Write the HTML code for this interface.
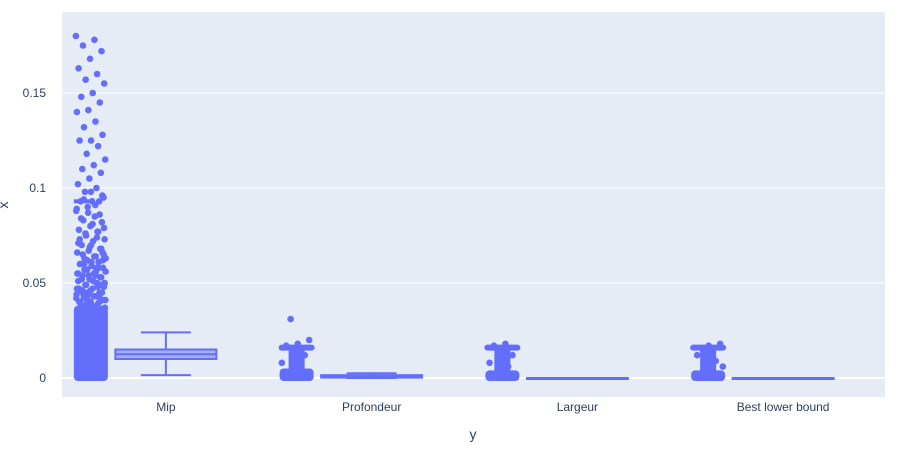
<!DOCTYPE html>
<html><head><meta charset="utf-8"><style>
body{margin:0;background:#fff;font-family:"Liberation Sans",Arial,sans-serif}
svg text{font-family:"Liberation Sans",Arial,sans-serif;fill:#2a3f5f;font-size:12px}
</style></head><body>
<svg id="chart" width="898" height="447">
<rect x="62" y="12" width="823" height="385" fill="#e5ecf6"/>
<g id="grid"></g><g id="marks"></g><g id="labels"></g>
<text x="473" y="439" text-anchor="middle" style="font-size:14px">y</text>
<text transform="translate(8,205) rotate(-90)" text-anchor="middle" style="font-size:14px">x</text>
</svg>
<script>
const categories=["Mip","Profondeur","Largeur","Best lower bound"];
const yTicks=[0,0.05,0.1,0.15];
const yTickLabels=["0","0.05","0.1","0.15"];
const boxLow=[0.0015,0,0,0];
const boxQ1=[0.0100,0.0002,0,0];
const boxMedian=[0.0125,0.0008,0,0];
const boxQ3=[0.0150,0.0015,0,0];
const boxHigh=[0.0240,0.0025,0,0];
const denseTop=[0.038,0.005,0.004,0.004];
const clusterValue=[null,0.016,0.016,0.016];
const mipPoints=[0.180,0.178,0.175,0.172,0.168,0.163,0.160,0.157,0.155,0.150,0.148,0.145,0.141,0.140,0.135,0.132,0.128,0.125,0.125,0.122,0.118,0.115,0.112,0.110,0.108,0.105,0.102,0.100,0.098,0.095,0.093,0.093,0.093,0.090,0.088,0.085,0.083,0.082,0.080,0.078,0.077,0.075,0.073,0.072,0.070,0.068,0.067,0.066,0.064,0.063,0.062,0.061,0.060,0.058,0.057,0.056,0.055,0.054,0.053,0.052,0.051,0.050,0.049,0.048,0.047,0.046,0.045,0.045,0.044,0.043,0.042,0.041,0.040,0.040,0.039,0.038,0.037,0.036,0.036];
const mipDense=[0.098,0.096,0.094,0.091,0.089,0.087,0.086,0.084,0.081,0.079,0.076,0.074,0.071,0.069,0.068,0.065,0.064,0.063,0.062,0.061,0.060,0.059,0.058,0.057,0.056,0.055,0.054,0.053,0.052,0.051,0.050,0.049,0.048,0.047,0.046,0.045,0.044,0.043,0.042,0.041,0.040,0.039,0.038,0.065,0.062,0.058,0.055,0.052,0.049,0.046,0.043,0.041,0.039,0.077,0.073,0.070,0.066,0.060,0.054,0.047,0.044,0.042];
const otherPoints=[[],[0.031,0.020,0.018,0.017,0.012,0.010,0.008,0.006],[0.018,0.017,0.012,0.010,0.008,0.006],[0.018,0.017,0.012,0.009,0.007,0.006]];
const NS="http://www.w3.org/2000/svg";
const X0=62,BW=823/4;
const yS=v=>378-v*1900;
const cx=i=>X0+BW*(i+0.5)+1;
function el(t,a,p){const e=document.createElementNS(NS,t);for(const k in a)e.setAttribute(k,a[k]);p.appendChild(e);return e;}
const grid=document.getElementById('grid'),marks=document.getElementById('marks'),labels=document.getElementById('labels');
yTicks.forEach((t,i)=>{
 const l=el('line',{x1:62,x2:885,y1:yS(t),y2:yS(t),stroke:'#fff','stroke-width':t===0?2:1},grid);
 
 
 const tx=el('text',{x:46,y:yS(t)+4,'text-anchor':'end'},labels);tx.textContent=yTickLabels[i];
 
 
});
const C='#636efa';
categories.forEach((c,i)=>{
 const tx=el('text',{x:cx(i),y:411,'text-anchor':'middle'},labels);tx.textContent=c;
 
 
 const px=cx(i)-75;
 const g=el('g',{},marks);
 
 
 el('rect',{x:px-17,y:yS(denseTop[i]),width:34,height:yS(0)-yS(denseTop[i])+3,rx:4,fill:C},g);
 if(clusterValue[i]!==null){
  el('rect',{x:px-8,y:yS(clusterValue[i]),width:16,height:yS(0)-yS(clusterValue[i]),fill:C},g);
  el('rect',{x:px-18,y:yS(clusterValue[i])-3,width:36,height:6,rx:3,fill:C},g);
 }
 const pts=i===0?mipPoints:otherPoints[i];
 pts.forEach((v,k)=>{
  const j=((k*0.618+0.3*i)%1)*30-15;
  el('circle',{cx:px+j,cy:yS(v),r:3.3,fill:C},g);
 });
 if(i===0){
  mipDense.forEach((v,k)=>{
   const j=((k*0.382+0.5)%1)*30-15;
   el('circle',{cx:px+j,cy:yS(v),r:3.3,fill:C},g);
  });
  el('rect',{x:px-17,y:yS(0.093)-2,width:18,height:4,fill:C},g);
 }
 const b=el('g',{},marks);
 
 
 const bx=cx(i),bw=101,ww=50;
 el('line',{x1:bx,x2:bx,y1:yS(boxHigh[i]),y2:yS(boxQ3[i]),stroke:C,'stroke-width':2},b);
 el('line',{x1:bx,x2:bx,y1:yS(boxQ1[i]),y2:yS(boxLow[i]),stroke:C,'stroke-width':2},b);
 el('line',{x1:bx-ww/2,x2:bx+ww/2,y1:yS(boxHigh[i]),y2:yS(boxHigh[i]),stroke:C,'stroke-width':2},b);
 el('line',{x1:bx-ww/2,x2:bx+ww/2,y1:yS(boxLow[i]),y2:yS(boxLow[i]),stroke:C,'stroke-width':2},b);
 el('rect',{x:bx-bw/2,y:yS(boxQ3[i]),width:bw,height:Math.max(yS(boxQ1[i])-yS(boxQ3[i]),1),fill:'rgba(99,110,250,0.5)',stroke:C,'stroke-width':2},b);
 el('line',{x1:bx-bw/2,x2:bx+bw/2,y1:yS(boxMedian[i]),y2:yS(boxMedian[i]),stroke:C,'stroke-width':2},b);
});
</script>
</body></html>
